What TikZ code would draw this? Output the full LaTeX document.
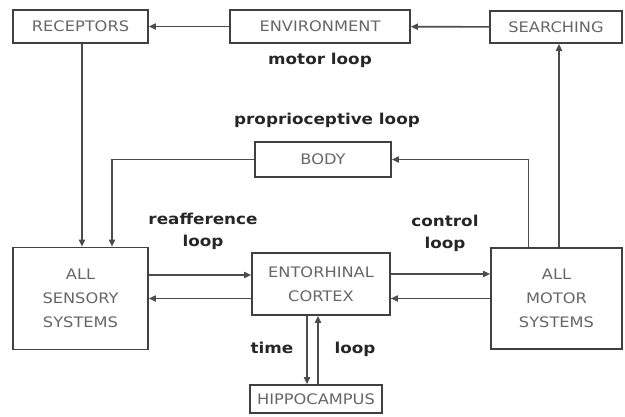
\documentclass[tikz,border=0pt]{standalone}
\usepackage{fontspec}
\setmainfont{DejaVu Sans}
\newfontfamily\boxfont[FakeStretch=1.12]{DejaVu Sans}
\usetikzlibrary{arrows.meta, positioning, calc}

\begin{document}
\begin{tikzpicture}[x=1pt, y=-1pt,
  box/.style = {rectangle, draw=black!75, line width=1.6pt, text=black!60,
                inner sep=0pt, align=center,
                font=\boxfont\fontsize{14.5}{24}\selectfont},
  arr/.style = {-{Triangle[length=7pt,width=6pt]}, line width=1.6pt, black!70},
  lbl/.style = {font=\boxfont\bfseries\fontsize{15}{22}\selectfont,
                text=black!85, align=center, inner sep=0pt},
]
  \useasboundingbox (0,0) rectangle (625,417);

  \node[box, minimum width=135pt, minimum height=33pt] (receptors) at (80.5,26.5) {RECEPTORS};
  \node[box, minimum width=180pt, minimum height=33pt] (environment) at (320,26.5) {ENVIRONMENT};
  \node[box, minimum width=132pt, minimum height=32pt] (searching) at (556,27) {SEARCHING};
  \node[box, minimum width=136pt, minimum height=35pt] (body) at (323,159.5) {BODY};
  \node[box, minimum width=135pt, minimum height=102pt] (sensory) at (80.5,298.5) {ALL\\SENSORY\\SYSTEMS};
  \node[box, minimum width=138pt, minimum height=62pt] (cortex) at (321,284) {ENTORHINAL\\CORTEX};
  \node[box, minimum width=131pt, minimum height=101pt] (motor) at (556.5,298.5) {ALL\\MOTOR\\SYSTEMS};
  \node[box, minimum width=132pt, minimum height=28pt] (hippo) at (316,399) {HIPPOCAMPUS};

  \node[lbl] (motorlbl) at (320,60) {motor loop};
  \node[lbl] (proplbl) at (327,120) {proprioceptive loop};
  \node[lbl] (reafflbl) at (203,231) {reafference\\loop};
  \node[lbl] (ctrllbl) at (445,233) {control\\loop};
  \node[lbl] (timelbl) at (272,348) {time};
  \node[lbl] (looplbl) at (355,349) {loop};

  % outer loops
  \draw[arr] (environment) -- (receptors);
  \draw[arr] (searching) -- (environment);
  \draw[arr] ([xshift=2.5pt]motor.north) -- ([xshift=2.5pt]motor.north |- searching.south);
  \draw[arr] ([xshift=-28pt]motor.north) |- (body.east);
  \draw[arr] (body.west) -| ([xshift=31.5pt]sensory.north);
  \draw[arr] ([xshift=1.5pt]receptors.south) -- ([xshift=1.5pt]sensory.north);

  % inner loops
  \draw[arr] ([yshift=9pt]cortex.west -| sensory.east) -- ([yshift=9pt]cortex.west);
  \draw[arr] (cortex.west |- sensory.east) -- (sensory.east);
  \draw[arr] ([yshift=10pt]cortex.east) -- ([yshift=10pt]cortex.east -| motor.west);
  \draw[arr] (motor.west) -- (motor.west -| cortex.east);
  \draw[arr] ([xshift=-14pt]cortex.south) -- ([xshift=-14pt]cortex.south |- hippo.north);
  \draw[arr] ([xshift=-3pt]cortex.south |- hippo.north) -- ([xshift=-3pt]cortex.south);
\end{tikzpicture}
\end{document}
